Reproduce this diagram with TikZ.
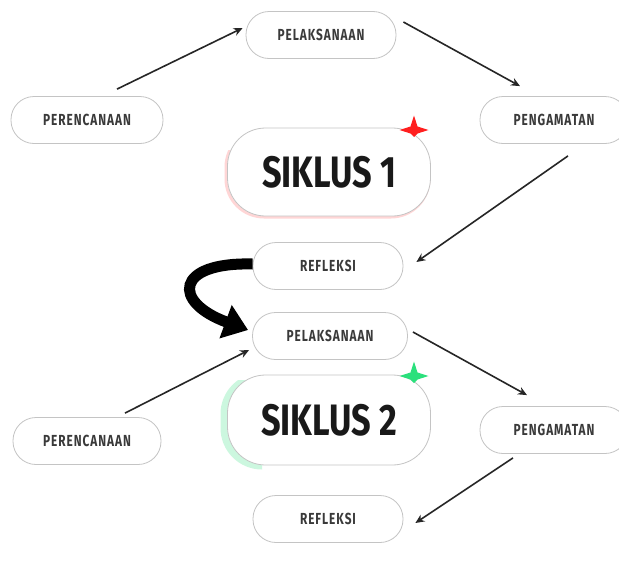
\documentclass[tikz,border=0pt]{standalone}
\usepackage{fontspec}
\setmainfont{Fira Sans}
\newfontfamily\lblfont[FakeStretch=0.74,LetterSpace=6]{Fira Sans}
\newfontfamily\bigfont[FakeStretch=0.78]{Fira Sans}
\usetikzlibrary{arrows.meta,calc}
\definecolor{lbl}{HTML}{3A3A3A}
\definecolor{bord}{HTML}{C4C4C4}
\definecolor{starred}{HTML}{FF1F1F}
\definecolor{stargreen}{HTML}{2BE07C}
\tikzset{
  pill/.style={draw=bord, line width=0.8pt, fill=white, rounded corners=23pt,
    minimum width=150pt, minimum height=47pt, inner sep=0pt,
    font=\lblfont\bfseries\fontsize{16}{16}\selectfont, text=lbl},
  bigpill/.style={draw=bord, line width=0.8pt, fill=white, rounded corners=38pt,
    minimum width=203pt, minimum height=88pt, inner sep=0pt,
    font=\bigfont\bfseries\fontsize{44}{44}\selectfont, text=black!90},
  conn/.style={line width=1.6pt, draw=black!85, -{Stealth[length=9pt,width=8pt]}},
}
\begin{document}
\begin{tikzpicture}[x=1pt,y=-1pt]
\useasboundingbox (0,0) rectangle (619,565);
\fill[white] (0,0) rectangle (619,565);
% glows
\begin{scope}
  \clip (200,150) rectangle (440,230);
  \draw[starred!30, line width=3pt, opacity=0.6, rounded corners=38pt] (226,129) rectangle (429,217);
\end{scope}
\begin{scope}
  \clip (200,380) rectangle (262,470);
  \draw[stargreen!40, line width=7pt, opacity=0.6, rounded corners=38pt] (224,376) rectangle (428,466);
\end{scope}
% nodes
\node[pill] (pel1) at (321,35) {PELAKSANAAN};
\node[pill, minimum width=152pt] (per1) at (87,120) {PERENCANAAN};
\node[pill, minimum width=148pt] (pen1) at (554,120) {PENGAMATAN};
\node[bigpill] (s1) at (329,172) {SIKLUS 1};
\node[pill] (ref1) at (328,266) {REFLEKSI};
\node[pill, minimum width=155pt] (pel2) at (330,336) {PELAKSANAAN};
\node[bigpill, minimum height=90pt] (s2) at (329,420) {SIKLUS 2};
\node[pill, minimum width=148pt] (per2) at (87,441) {PERENCANAAN};
\node[pill, minimum width=148pt] (pen2) at (554,430) {PENGAMATAN};
\node[pill] (ref2) at (328,519) {REFLEKSI};
% stars
\fill[starred] ([shift={(85,-35)}]s1.center) -- ++(3.5,-3.5) -- ++(11,-3.5) -- ++(-11,-3.5)
  -- ++(-3.5,-11) -- ++(-3.5,11) -- ++(-11,3.5) -- ++(11,3.5) -- cycle;
\fill[stargreen] ([shift={(85,-37)}]s2.center) -- ++(3.5,-3.5) -- ++(11,-3.5) -- ++(-11,-3.5)
  -- ++(-3.5,-11) -- ++(-3.5,11) -- ++(-11,3.5) -- ++(11,3.5) -- cycle;
% connectors
\draw[conn] ([shift={(30,-7)}]per1.north) -- ([shift={(-3,-7)}]pel1.west);
\draw[conn] ([shift={(7,-13)}]pel1.east) -- ([shift={(-34,-10)}]pen1.north);
\draw[conn] ([shift={(14,12)}]pen1.south) -- ([shift={(13,-4)}]ref1.east);
\draw[conn] ([shift={(38,-4)}]per2.north) -- ([shift={(-3,14)}]pel2.west);
\draw[conn] ([shift={(5,-4)}]pel2.east) -- ([shift={(-27,-11)}]pen2.north);
\draw[conn] ([shift={(-41,4)}]pen2.south) -- ([shift={(12,4)}]ref2.east);
% big curved arrow
\draw[line width=11pt, -{Triangle[length=24pt,width=34pt]}]
  ([shift={(0,-2)}]ref1.west) .. controls (175,262) and (172,302) .. ([shift={(-4,-6)}]pel2.west);
\end{tikzpicture}
\end{document}
